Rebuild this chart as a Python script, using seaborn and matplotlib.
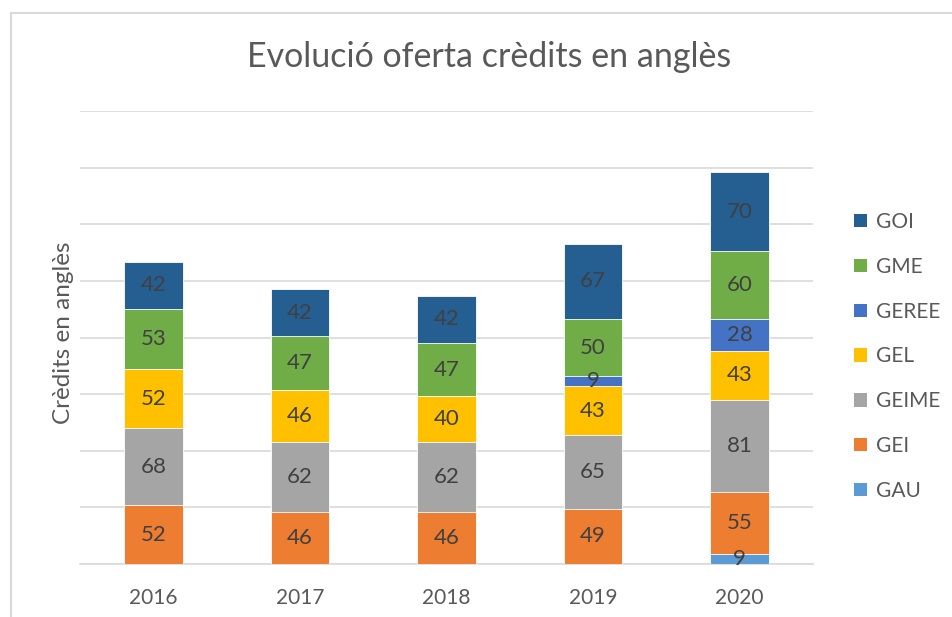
import numpy as np
import pandas as pd
import matplotlib
matplotlib.use("Agg")
import matplotlib.pyplot as plt
from matplotlib.lines import Line2D
from matplotlib.patches import Patch
import seaborn as sns

years = ["2016", "2017", "2018", "2019", "2020"]
series = ["GAU", "GEI", "GEIME", "GEL", "GEREE", "GME", "GOI"]
GAU = [0, 0, 0, 0, 9]
GEI = [52, 46, 46, 49, 55]
GEIME = [68, 62, 62, 65, 81]
GEL = [52, 46, 40, 43, 43]
GEREE = [0, 0, 0, 9, 28]
GME = [53, 47, 47, 50, 60]
GOI = [42, 42, 42, 67, 70]
colors = {"GAU": "#5B9BD5", "GEI": "#ED7D31", "GEIME": "#A5A5A5", "GEL": "#FFC000",
          "GEREE": "#4472C4", "GME": "#70AD47", "GOI": "#255E91"}

values = {"GAU": GAU, "GEI": GEI, "GEIME": GEIME, "GEL": GEL,
          "GEREE": GEREE, "GME": GME, "GOI": GOI}

sns.set_theme(style="white")
plt.rcParams["font.family"] = ["Lato", "DejaVu Sans"]

fig = plt.figure(figsize=(9.52, 6.17), dpi=100)
ax = fig.add_axes([80/952, 1-564/617, (813-80)/952, (564-111)/617])

df = pd.DataFrame(values, index=years)
cum = df.cumsum(axis=1)

# draw from top layer to bottom so lower layers overwrite
for s in reversed(series):
    d = pd.DataFrame({"year": years, "val": cum[s].values})
    sns.barplot(data=d, x="year", y="val", color=colors[s], width=0.40,
                saturation=1, ax=ax, edgecolor="white", linewidth=0.6, zorder=3)

# data labels
for i, y in enumerate(years):
    base = 0
    for s in series:
        v = df.loc[y, s]
        if v > 0:
            ax.text(i, base + v/2, str(v), ha="center", va="center",
                    fontsize=16, color="#404040", zorder=5)
        base += v

ax.set_ylim(0, 400)
ax.set_xlim(-0.5, 4.5)
ax.set_yticks(np.arange(0, 401, 50))
ax.set_yticklabels([])
ax.yaxis.grid(True, color="#D9D9D9", linewidth=1.2, zorder=0)
ax.set_axisbelow(True)
for sp in ["top", "right", "left"]:
    ax.spines[sp].set_visible(False)
ax.spines["bottom"].set_color("#D9D9D9")
ax.spines["bottom"].set_linewidth(1.2)
ax.tick_params(axis="both", length=0)
ax.tick_params(axis="x", pad=17, labelsize=15, labelcolor="#595959")
ax.set_xlabel("")
ax.set_ylabel("")

fig.text(63/952, 1-333/617, "Crèdits en anglès", rotation=90, ha="center",
         va="center", fontsize=17.5, color="#595959")

fig.suptitle("Evolució oferta crèdits en anglès", x=489/952, y=1-57/617,
             va="center", ha="center", fontsize=24.5, color="#595959")

handles = [Patch(facecolor=colors[s], edgecolor="none") for s in reversed(series)]
fig.legend(handles, list(reversed(series)), loc="upper left",
           bbox_to_anchor=(854/952, 1-212/617), frameon=False, fontsize=15,
           handlelength=0.62, handleheight=0.62, handletextpad=0.45,
           labelspacing=1.19, borderpad=0, borderaxespad=0,
           labelcolor="#595959")

# outer frame (top and left edges visible)
fig.add_artist(Line2D([10.5/952, 1], [1-12.5/617, 1-12.5/617], color="#D9D9D9",
                      linewidth=1.5, transform=fig.transFigure))
fig.add_artist(Line2D([10.5/952, 10.5/952], [0, 1-12.5/617], color="#D9D9D9",
                      linewidth=1.5, transform=fig.transFigure))

fig.savefig("out.png", dpi=100)
